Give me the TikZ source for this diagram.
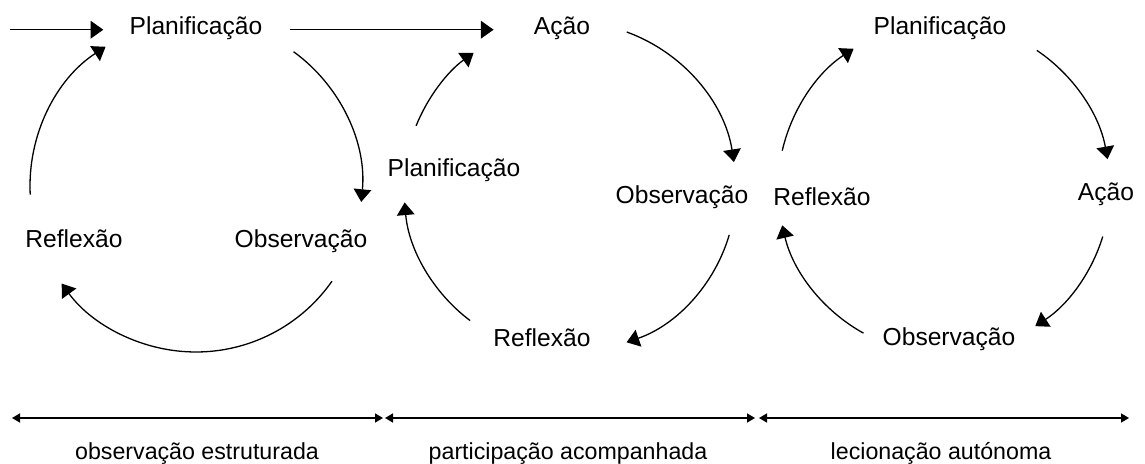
\documentclass[tikz,border=0pt]{standalone}
\usepackage{fontspec}
\setmainfont{Liberation Sans}
\usetikzlibrary{arrows.meta}

\tikzset{
  stage/.style={anchor=base, inner sep=0pt, font=\fontsize{12.3}{14}\selectfont},
  phase/.style={anchor=base, inner sep=0pt, font=\fontsize{11.6}{14}\selectfont},
  flow/.style={line width=0.65pt, -{Triangle[length=6.3pt,width=8.8pt]}},
  phasearrow/.style={line width=0.8pt, {Triangle[length=4pt,width=4.5pt]}-{Triangle[length=4pt,width=4.5pt]}},
}

\begin{document}
\begin{tikzpicture}[x=0.5pt,y=-0.5pt]
	\useasboundingbox (0,0) rectangle (1145,464);

	% centres of the three cycles
	\coordinate (cycA) at (196,186);
	\coordinate (cycB) at (570,188);
	\coordinate (cycC) at (944,188);

	% first cycle
	\node[stage] (planA) at (196,35) {Planificação};
	\node[stage] (obsA) at (301,248) {Observação};
	\node[stage] (reflA) at (74,248) {Reflexão};

	% second cycle
	\node[stage] (acaoB) at (562,35) {Ação};
	\node[stage] (obsB) at (682,204) {Observação};
	\node[stage] (reflB) at (542,347) {Reflexão};
	\node[stage] (planB) at (454,177) {Planificação};

	% third cycle
	\node[stage] (planC) at (940,35) {Planificação};
	\node[stage] (acaoC) at (1106,201) {Ação};
	\node[stage] (obsC) at (949,346) {Observação};
	\node[stage] (reflC) at (822,206) {Reflexão};

	% entry and link arrows
	\coordinate (entry) at (10,0 |- planA.mid west);
	\draw[flow, shorten >=13pt] (entry) -- (planA.mid west);
	\draw[flow, shorten <=13.5pt, shorten >=20pt] (planA.mid east) -- (acaoB.mid west);

	% cycle arcs
	\draw[flow] (cycA) ++(-54:166) arc[start angle=-54, end angle=5.5, radius=166];
	\draw[flow] (cycA) ++(35:166) arc[start angle=35, end angle=144, radius=166];
	\draw[flow] (cycA) ++(177:166) arc[start angle=177, end angle=237, radius=166];

	\draw[flow] (cycB) ++(202:166) arc[start angle=202, end angle=234.5, radius=166];
	\draw[flow] (cycB) ++(-70:166) arc[start angle=-70, end angle=-9, radius=166];
	\draw[flow] (cycB) ++(16.4:166) arc[start angle=16.4, end angle=71, radius=162];
	\draw[flow] (cycB) ++(127:166) arc[start angle=127, end angle=175, radius=166];

	\draw[flow] (cycC) ++(193:166) arc[start angle=193, end angle=237, radius=166];
	\draw[flow] (cycC) ++(-56:166) arc[start angle=-56, end angle=-10, radius=166];
	\draw[flow] (cycC) ++(17:166) arc[start angle=17, end angle=57, radius=164];
	\draw[flow] (cycC) ++(119:166) arc[start angle=119, end angle=167, radius=166];

	% phases along the bottom
	\coordinate (pA1) at (12,418);
	\coordinate (pA2) at (383,418);
	\coordinate (pB1) at (385,418);
	\coordinate (pB2) at (755,418);
	\coordinate (pC1) at (759,418);
	\coordinate (pC2) at (1129,418);
	\draw[phasearrow] (pA1) -- (pA2);
	\draw[phasearrow] (pB1) -- (pB2);
	\draw[phasearrow] (pC1) -- (pC2);

	\node[phase] (phA) at (197,459) {observação estruturada};
	\node[phase] (phB) at (568,459) {participação acompanhada};
	\node[phase] (phC) at (941,459) {lecionação autónoma};
\end{tikzpicture}
\end{document}
